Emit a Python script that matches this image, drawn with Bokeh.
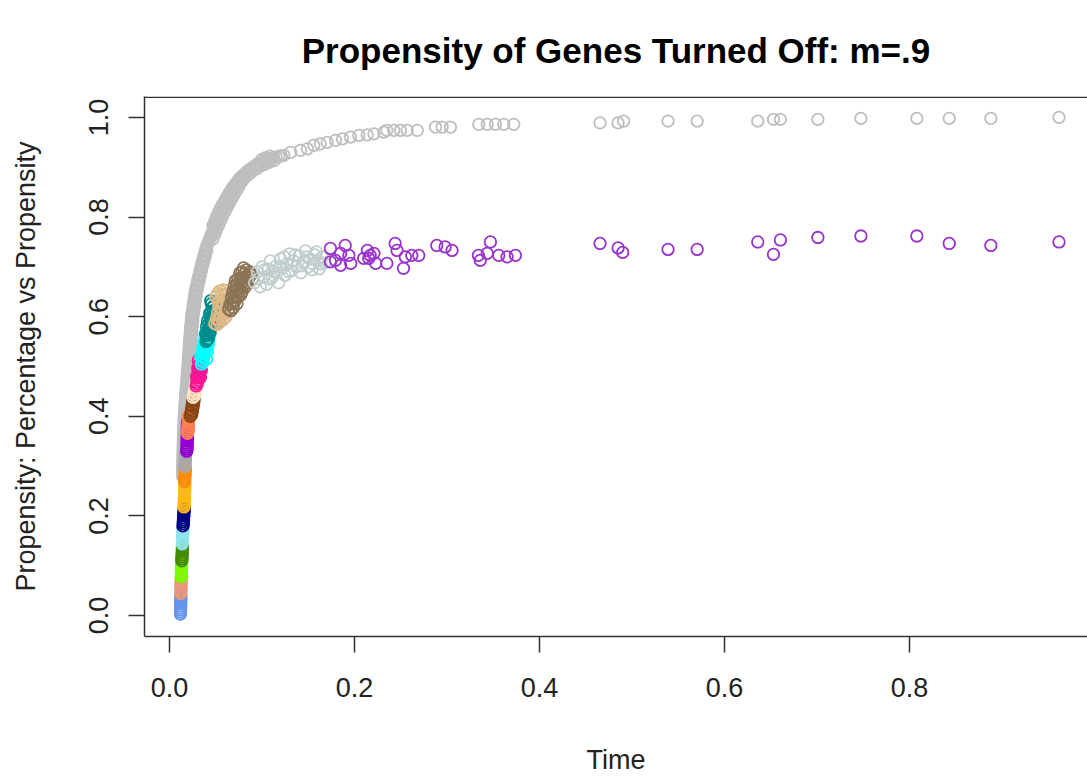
from bokeh.plotting import figure
from bokeh.models import Range1d, FixedTicker, NumeralTickFormatter, Span
from bokeh.embed import file_html
from bokeh.resources import INLINE

FONT = "Liberation Sans"

title_text = "Propensity of Genes Turned Off: m=.9"
x_ticks = [0.0, 0.2, 0.4, 0.6, 0.8]
y_ticks = [0.0, 0.2, 0.4, 0.6, 0.8, 1.0]

# ---- gray series: cumulative percentage of genes turned off ----
gray_t = [0.0140, 0.0141, 0.0141, 0.0142, 0.0143, 0.0144, 0.0144, 0.0145, 0.0146, 0.0146,
          0.0147, 0.0148, 0.0149, 0.0149, 0.0150, 0.0151, 0.0152, 0.0153, 0.0154, 0.0155,
          0.0156, 0.0157, 0.0158, 0.0159, 0.0160, 0.0162, 0.0164, 0.0166, 0.0167, 0.0169,
          0.0171, 0.0173, 0.0174, 0.0176, 0.0178, 0.0180, 0.0182, 0.0185, 0.0187, 0.0189,
          0.0191, 0.0193, 0.0196, 0.0198, 0.0200, 0.0202, 0.0204, 0.0205, 0.0207, 0.0209,
          0.0211, 0.0213, 0.0214, 0.0216, 0.0218, 0.0220, 0.0222, 0.0224, 0.0227, 0.0229,
          0.0231, 0.0233, 0.0236, 0.0238, 0.0240, 0.0244, 0.0248, 0.0252, 0.0256, 0.0260,
          0.0264, 0.0268, 0.0272, 0.0276, 0.0280, 0.0286, 0.0292, 0.0298, 0.0304, 0.0310,
          0.0316, 0.0322, 0.0328, 0.0334, 0.0340, 0.0347, 0.0355, 0.0362, 0.0370, 0.0377,
          0.0385, 0.0392, 0.0400,
          0.0156, 0.0157, 0.0159, 0.0160, 0.0161, 0.0163, 0.0164, 0.0166, 0.0168, 0.0170,
          0.0172, 0.0174, 0.0176, 0.0180, 0.0183, 0.0187, 0.0190, 0.0194, 0.0199, 0.0203,
          0.0207, 0.0212, 0.0216, 0.0220, 0.0223, 0.0227, 0.0230, 0.0234, 0.0238, 0.0243,
          0.0247, 0.0252, 0.0257, 0.0265, 0.0273, 0.0281, 0.0289, 0.0298, 0.0310, 0.0322,
          0.0334, 0.0346, 0.0359, 0.0374, 0.0389, 0.0404,
          0.0410, 0.0420, 0.0430, 0.0440, 0.0450, 0.0460, 0.0470, 0.0480,
          0.0491, 0.0503, 0.0514, 0.0526, 0.0537, 0.0549, 0.0560,
          0.0573, 0.0585, 0.0598, 0.0610, 0.0623, 0.0635, 0.0648, 0.0660,
          0.0674, 0.0688, 0.0701, 0.0715, 0.0729, 0.0743, 0.0756, 0.0770,
          0.0792, 0.0814, 0.0836, 0.0858, 0.0880, 0.0905, 0.0930, 0.0955, 0.0980,
          0.1004, 0.1028, 0.1052, 0.1076, 0.1100, 0.1127, 0.1154, 0.1182, 0.1209, 0.1236,
          0.0470, 0.0490, 0.0510, 0.0530, 0.0552, 0.0575, 0.0600, 0.0625, 0.0650, 0.0678,
          0.0706, 0.0735, 0.0765, 0.0800, 0.0835, 0.0870, 0.0910, 0.0950, 0.0995, 0.1040, 0.1085,
          0.0469, 0.0489, 0.0509, 0.0532, 0.0555, 0.0577, 0.0601, 0.0625, 0.0650, 0.0674,
          0.0700, 0.0726, 0.0753, 0.0778, 0.0810, 0.0852, 0.0894, 0.0942, 0.0990, 0.1036,
          0.1083, 0.1133,
          0.1310, 0.1416, 0.1490, 0.1560, 0.1630, 0.1705, 0.1795, 0.1870, 0.1957, 0.2047,
          0.2137, 0.2210, 0.2317, 0.2350, 0.2425, 0.2497, 0.2570, 0.2680, 0.2876, 0.2948,
          0.3038, 0.3344, 0.3435, 0.3524, 0.3614, 0.3722,
          0.4655, 0.4850, 0.4910, 0.5390, 0.5705, 0.6360, 0.6530, 0.6605, 0.7010, 0.7475,
          0.8080, 0.8430, 0.8880, 0.9617]
gray_v = [0.280, 0.285, 0.290, 0.295, 0.300, 0.305, 0.310, 0.315, 0.320, 0.325,
          0.330, 0.335, 0.340, 0.345, 0.350, 0.355, 0.360, 0.365, 0.370, 0.375,
          0.380, 0.385, 0.390, 0.395, 0.400, 0.405, 0.410, 0.415, 0.420, 0.425,
          0.430, 0.435, 0.440, 0.445, 0.450, 0.455, 0.460, 0.465, 0.470, 0.475,
          0.480, 0.485, 0.490, 0.495, 0.500, 0.505, 0.510, 0.515, 0.520, 0.525,
          0.530, 0.535, 0.540, 0.545, 0.550, 0.555, 0.560, 0.565, 0.570, 0.575,
          0.580, 0.585, 0.590, 0.595, 0.600, 0.605, 0.610, 0.615, 0.620, 0.625,
          0.630, 0.635, 0.640, 0.645, 0.650, 0.655, 0.660, 0.665, 0.670, 0.675,
          0.680, 0.685, 0.690, 0.695, 0.700, 0.705, 0.710, 0.715, 0.720, 0.725,
          0.730, 0.735, 0.740,
          0.2825, 0.2925, 0.3025, 0.3125, 0.3225, 0.3325, 0.3425, 0.3525, 0.3625, 0.3725,
          0.3825, 0.3925, 0.4025, 0.4125, 0.4225, 0.4325, 0.4425, 0.4525, 0.4625, 0.4725,
          0.4825, 0.4925, 0.5025, 0.5125, 0.5225, 0.5325, 0.5425, 0.5525, 0.5625, 0.5725,
          0.5825, 0.5925, 0.6025, 0.6125, 0.6225, 0.6325, 0.6425, 0.6525, 0.6625, 0.6725,
          0.6825, 0.6925, 0.7025, 0.7125, 0.7225, 0.7325,
          0.7446, 0.7492, 0.7539, 0.7585, 0.7631, 0.7677, 0.7723, 0.7770,
          0.7817, 0.7864, 0.7911, 0.7959, 0.8006, 0.8053, 0.8100,
          0.8142, 0.8185, 0.8228, 0.8270, 0.8313, 0.8355, 0.8398, 0.8440,
          0.8482, 0.8525, 0.8568, 0.8610, 0.8652, 0.8695, 0.8738, 0.8780,
          0.8816, 0.8852, 0.8888, 0.8924, 0.8960, 0.8990, 0.9020, 0.9050, 0.9080,
          0.9100, 0.9120, 0.9140, 0.9160, 0.9180, 0.9192, 0.9204, 0.9216, 0.9228, 0.9240,
          0.7830, 0.7920, 0.8010, 0.8100, 0.8180, 0.8260, 0.8340, 0.8420, 0.8500, 0.8580,
          0.8650, 0.8720, 0.8790, 0.8850, 0.8905, 0.8955, 0.9010, 0.9065, 0.9150, 0.9190, 0.9225,
          0.7560, 0.7652, 0.7745, 0.7839, 0.7934, 0.8027, 0.8115, 0.8200, 0.8285, 0.8368,
          0.8452, 0.8536, 0.8619, 0.8703, 0.8776, 0.8846, 0.8915, 0.8970, 0.9028, 0.9065,
          0.9104, 0.9135,
          0.9300, 0.9340, 0.9370, 0.9440, 0.9470, 0.9500, 0.9540, 0.9570, 0.9605, 0.9640,
          0.9650, 0.9670, 0.9705, 0.9740, 0.9740, 0.9740, 0.9740, 0.9740, 0.9806, 0.9806,
          0.9806, 0.9860, 0.9860, 0.9860, 0.9860, 0.9860,
          0.9890, 0.9890, 0.9926, 0.9926, 0.9926, 0.9926, 0.9960, 0.9960, 0.9960, 0.9980,
          0.9980, 0.9980, 0.9980, 1.0000]

# ---- coloured series: propensity, coloured by time group ----
blue_t = [0.0118, 0.0120, 0.0119, 0.0121, 0.0120, 0.0122, 0.0121, 0.0123, 0.0122, 0.0124]
blue_v = [0.003, 0.007, 0.011, 0.015, 0.019, 0.023, 0.027, 0.031, 0.035, 0.039]
salmon_t = [0.0122, 0.0124, 0.0123, 0.0125, 0.0124, 0.0126, 0.0125, 0.0127, 0.0126]
salmon_v = [0.044, 0.048, 0.052, 0.056, 0.060, 0.064, 0.068, 0.072, 0.076]
lawn_t = [0.0127, 0.0129, 0.0128, 0.0130, 0.0129, 0.0131, 0.0130, 0.0132, 0.0131]
lawn_v = [0.078, 0.082, 0.086, 0.090, 0.094, 0.098, 0.102, 0.106, 0.110]
green_t = [0.0133, 0.0136, 0.0134, 0.0138, 0.0136, 0.0140, 0.0138, 0.0141, 0.0140]
green_v = [0.110, 0.114, 0.118, 0.122, 0.126, 0.130, 0.134, 0.138, 0.142]
cadet_t = [0.0138, 0.0141, 0.0139, 0.0143, 0.0141, 0.0145, 0.0143, 0.0146, 0.0145, 0.0147]
cadet_v = [0.144, 0.148, 0.152, 0.156, 0.160, 0.164, 0.168, 0.172, 0.176, 0.180]
navy_t = [0.0145, 0.0150, 0.0148, 0.0153, 0.0151, 0.0156, 0.0154, 0.0159, 0.0157, 0.0160]
navy_v = [0.180, 0.184, 0.188, 0.192, 0.196, 0.200, 0.204, 0.208, 0.212, 0.216]
gold_t = [0.0156, 0.0160, 0.0158, 0.0162, 0.0160, 0.0164, 0.0162, 0.0166, 0.0164, 0.0167, 0.0165, 0.0168, 0.0166]
gold_v = [0.218, 0.222, 0.226, 0.230, 0.234, 0.238, 0.242, 0.246, 0.250, 0.254, 0.258, 0.262, 0.266]
dorange_t = [0.0163, 0.0167, 0.0165, 0.0169, 0.0167, 0.0171, 0.0169, 0.0172]
dorange_v = [0.269, 0.273, 0.277, 0.281, 0.285, 0.289, 0.293, 0.297]
dgray_t = [0.0166, 0.0170, 0.0168, 0.0172, 0.0170, 0.0174, 0.0172, 0.0176]
dgray_v = [0.299, 0.303, 0.307, 0.311, 0.315, 0.319, 0.323, 0.327]
violet_t = [0.0186, 0.0190, 0.0188, 0.0192, 0.0189, 0.0193, 0.0190, 0.0194, 0.0191, 0.0195, 0.0192, 0.0196, 0.0193, 0.0197, 0.0194, 0.0198]
violet_v = [0.330, 0.334, 0.338, 0.342, 0.346, 0.350, 0.354, 0.358, 0.362, 0.366, 0.370, 0.374, 0.378, 0.382, 0.386, 0.390]
coral_t = [0.0196, 0.0202, 0.0199, 0.0205, 0.0201, 0.0207, 0.0203, 0.0209, 0.0205, 0.0211]
coral_v = [0.366, 0.370, 0.374, 0.378, 0.382, 0.386, 0.390, 0.394, 0.398, 0.402]
sienna_t = [0.0225, 0.0240, 0.0232, 0.0248, 0.0238, 0.0255, 0.0245, 0.0262, 0.0250, 0.0268, 0.0258]
sienna_v = [0.400, 0.403, 0.407, 0.410, 0.414, 0.418, 0.422, 0.426, 0.430, 0.434, 0.438]
bisque_t = [0.0255, 0.0270, 0.0262, 0.0280, 0.0270, 0.0290, 0.0278, 0.0298, 0.0285]
bisque_v = [0.438, 0.441, 0.445, 0.448, 0.452, 0.455, 0.459, 0.462, 0.466]
pink_t = [0.0288, 0.0300, 0.0295, 0.0310, 0.0302, 0.0318, 0.0308, 0.0325, 0.0315, 0.0332,
          0.0320, 0.0338, 0.0335, 0.0345, 0.0293, 0.0305, 0.0312]
pink_v = [0.461, 0.465, 0.469, 0.473, 0.477, 0.481, 0.485, 0.489, 0.494, 0.498,
          0.503, 0.508, 0.478, 0.492, 0.480, 0.496, 0.512]
cyan_t = [0.0345, 0.0360, 0.0352, 0.0368, 0.0360, 0.0378, 0.0368, 0.0388, 0.0375, 0.0395,
          0.0385, 0.0405, 0.0392, 0.0415, 0.0400, 0.0425, 0.0400, 0.0410, 0.0420, 0.0430,
          0.0340, 0.0355, 0.0372, 0.0383]
cyan_v = [0.505, 0.509, 0.513, 0.517, 0.521, 0.525, 0.529, 0.533, 0.537, 0.541,
          0.545, 0.549, 0.553, 0.557, 0.561, 0.565, 0.515, 0.530, 0.545, 0.558,
          0.520, 0.535, 0.550, 0.562]
dcyan_t = [0.0395, 0.0410, 0.0420, 0.0405, 0.0425, 0.0440, 0.0415, 0.0435, 0.0455, 0.0425,
           0.0448, 0.0470, 0.0438, 0.0460, 0.0485, 0.0450, 0.0472, 0.0462, 0.0480, 0.0500,
           0.0510, 0.0495, 0.0390, 0.0400, 0.0412, 0.0432, 0.0452, 0.0445]
dcyan_v = [0.550, 0.553, 0.556, 0.562, 0.565, 0.568, 0.574, 0.577, 0.580, 0.586,
           0.589, 0.592, 0.598, 0.601, 0.603, 0.609, 0.612, 0.618, 0.622, 0.585,
           0.600, 0.612, 0.566, 0.580, 0.592, 0.606, 0.626, 0.632]
tan_t = [0.0490, 0.0515, 0.0540, 0.0505, 0.0530, 0.0555, 0.0580, 0.0520, 0.0545, 0.0570,
         0.0595, 0.0535, 0.0560, 0.0585, 0.0610, 0.0550, 0.0575, 0.0600, 0.0625, 0.0565,
         0.0590, 0.0615, 0.0580, 0.0605, 0.0520, 0.0545, 0.0502, 0.0528, 0.0612, 0.0640]
tan_v = [0.586, 0.584, 0.588, 0.596, 0.594, 0.598, 0.594, 0.608, 0.606, 0.610,
         0.606, 0.620, 0.618, 0.622, 0.618, 0.632, 0.630, 0.634, 0.630, 0.644,
         0.642, 0.646, 0.654, 0.652, 0.646, 0.652, 0.640, 0.630, 0.600, 0.610]
brown_t = [0.0640, 0.0665, 0.0690, 0.0655, 0.0680, 0.0705, 0.0730, 0.0670, 0.0695, 0.0720,
           0.0745, 0.0685, 0.0710, 0.0735, 0.0760, 0.0785, 0.0700, 0.0725, 0.0750, 0.0775,
           0.0800, 0.0740, 0.0765, 0.0790, 0.0815, 0.0840, 0.0760, 0.0785, 0.0810, 0.0835,
           0.0860, 0.0880, 0.0900, 0.0800, 0.0830, 0.0712, 0.0772, 0.0822, 0.0868]
brown_v = [0.615, 0.612, 0.618, 0.625, 0.628, 0.630, 0.626, 0.638, 0.640, 0.642,
           0.640, 0.650, 0.652, 0.654, 0.652, 0.650, 0.662, 0.664, 0.666, 0.664,
           0.662, 0.676, 0.678, 0.676, 0.672, 0.668, 0.688, 0.690, 0.686, 0.682,
           0.678, 0.684, 0.676, 0.698, 0.694, 0.672, 0.644, 0.660, 0.690]
azure_t = [0.0920, 0.0950, 0.0980, 0.1000, 0.1020, 0.1050, 0.1070, 0.1090, 0.1110, 0.1140,
           0.1160, 0.1180, 0.1200, 0.1220, 0.1250, 0.1270, 0.1300, 0.1320, 0.1340, 0.1370,
           0.1400, 0.1420, 0.1450, 0.1470, 0.1500, 0.1520, 0.1550, 0.1570, 0.1600, 0.1620,
           0.1650, 0.1680,
           0.0960, 0.1030, 0.1080, 0.1130, 0.1190, 0.1240, 0.1290, 0.1360, 0.1430, 0.1490,
           0.1540, 0.1590, 0.1640]
azure_v = [0.668, 0.690, 0.660, 0.700, 0.680, 0.665, 0.695, 0.712, 0.678, 0.700,
           0.688, 0.668, 0.716, 0.698, 0.683, 0.706, 0.726, 0.692, 0.712, 0.700,
           0.722, 0.688, 0.710, 0.732, 0.700, 0.716, 0.706, 0.724, 0.712, 0.696,
           0.720, 0.708,
           0.676, 0.694, 0.676, 0.690, 0.700, 0.720, 0.690, 0.724, 0.702, 0.720,
           0.694, 0.730, 0.706]
orchid_t = [0.1740, 0.1795, 0.1740, 0.1900, 0.1850, 0.1940, 0.1850, 0.1960, 0.2140, 0.2170,
            0.2210, 0.2100, 0.2230, 0.2155, 0.2350, 0.2440, 0.2460, 0.2550, 0.2530, 0.2620,
            0.2695, 0.2890, 0.2980, 0.3055, 0.3340, 0.3360, 0.3470, 0.3435, 0.3560, 0.3650,
            0.3740,
            0.4655, 0.4850, 0.4900, 0.5390, 0.5705, 0.6360, 0.6530, 0.6605, 0.7010, 0.7475,
            0.8080, 0.8430, 0.8880, 0.9617]
orchid_v = [0.737, 0.713, 0.710, 0.743, 0.727, 0.723, 0.703, 0.707, 0.733, 0.723,
            0.727, 0.717, 0.707, 0.717, 0.707, 0.747, 0.733, 0.720, 0.697, 0.723,
            0.723, 0.743, 0.740, 0.733, 0.723, 0.713, 0.750, 0.727, 0.723, 0.720,
            0.723,
            0.747, 0.738, 0.729, 0.735, 0.735, 0.750, 0.725, 0.754, 0.759, 0.762,
            0.762, 0.747, 0.743, 0.750]

groups = [
    ("#6495ED", blue_t, blue_v),
    ("#E9967A", salmon_t, salmon_v),
    ("#7CFC00", lawn_t, lawn_v),
    ("#458B00", green_t, green_v),
    ("#8EE5EE", cadet_t, cadet_v),
    ("#000080", navy_t, navy_v),
    ("#FFB90F", gold_t, gold_v),
    ("#FF8C00", dorange_t, dorange_v),
    ("#A9A9A9", dgray_t, dgray_v),
    ("#9400D3", violet_t, violet_v),
    ("#FF7F50", coral_t, coral_v),
    ("#8B4513", sienna_t, sienna_v),
    ("#FFE4C4", bisque_t, bisque_v),
    ("#FF1493", pink_t, pink_v),
    ("#00FFFF", cyan_t, cyan_v),
    ("#008B8B", dcyan_t, dcyan_v),
    ("#DEB887", tan_t, tan_v),
    ("#8B7355", brown_t, brown_v),
    ("#C1CDCD", azure_t, azure_v),
    ("#9A32CD", orchid_t, orchid_v),
]

p = figure(width=1087, height=777,
           x_range=Range1d(-0.027, 0.9925), y_range=Range1d(-0.042, 1.042),
           output_backend="svg", toolbar_location=None,
           min_border_left=144, min_border_right=0, min_border_top=96, min_border_bottom=140,
           title=title_text)
p.outline_line_color = None
p.background_fill_color = "white"
p.border_fill_color = "white"
p.grid.visible = False
p.title.text_font = FONT
p.title.text_font_size = "35px"
p.title.text_font_style = "bold"
p.title.align = "center"
p.title.text_color = "black"
p.title.standoff = 54

for ax in (p.xaxis[0], p.yaxis[0]):
    ax.axis_line_color = "#333333"
    ax.axis_line_width = 1.5
    ax.major_tick_line_color = "#333333"
    ax.major_tick_line_width = 1.5
    ax.major_tick_out = 16
    ax.major_tick_in = 0
    ax.minor_tick_line_color = None
    ax.major_label_text_font = FONT
    ax.major_label_text_font_size = "27px"
    ax.major_label_text_color = "#222222"
    ax.axis_label_text_font = FONT
    ax.axis_label_text_font_size = "27px"
    ax.axis_label_text_font_style = "normal"
    ax.axis_label_text_color = "#222222"
    ax.formatter = NumeralTickFormatter(format="0.0")

p.xaxis.ticker = FixedTicker(ticks=x_ticks)
p.yaxis.ticker = FixedTicker(ticks=y_ticks)
p.xaxis.axis_label = "Time"
p.yaxis.axis_label = "Propensity: Percentage vs Propensity"
p.yaxis.major_label_orientation = "vertical"
p.xaxis.major_label_standoff = 25
p.yaxis.major_label_standoff = 20
p.xaxis.axis_label_standoff = 45
p.yaxis.axis_label_standoff = 46

# top edge of the box (the right edge lies beyond the visible area)
p.add_layout(Span(location=1.0405, dimension="width", line_color="#333333", line_width=1.5))

p.scatter(gray_t, gray_v, marker="circle", size=11.5, fill_color=None,
          line_color="#BEBEBE", line_width=1.8)
for color, ts, vs in groups:
    p.scatter(ts, vs, marker="circle", size=11.5, fill_color=None,
              line_color=color, line_width=1.8)

open("out.html", "w").write(file_html(p, INLINE))
